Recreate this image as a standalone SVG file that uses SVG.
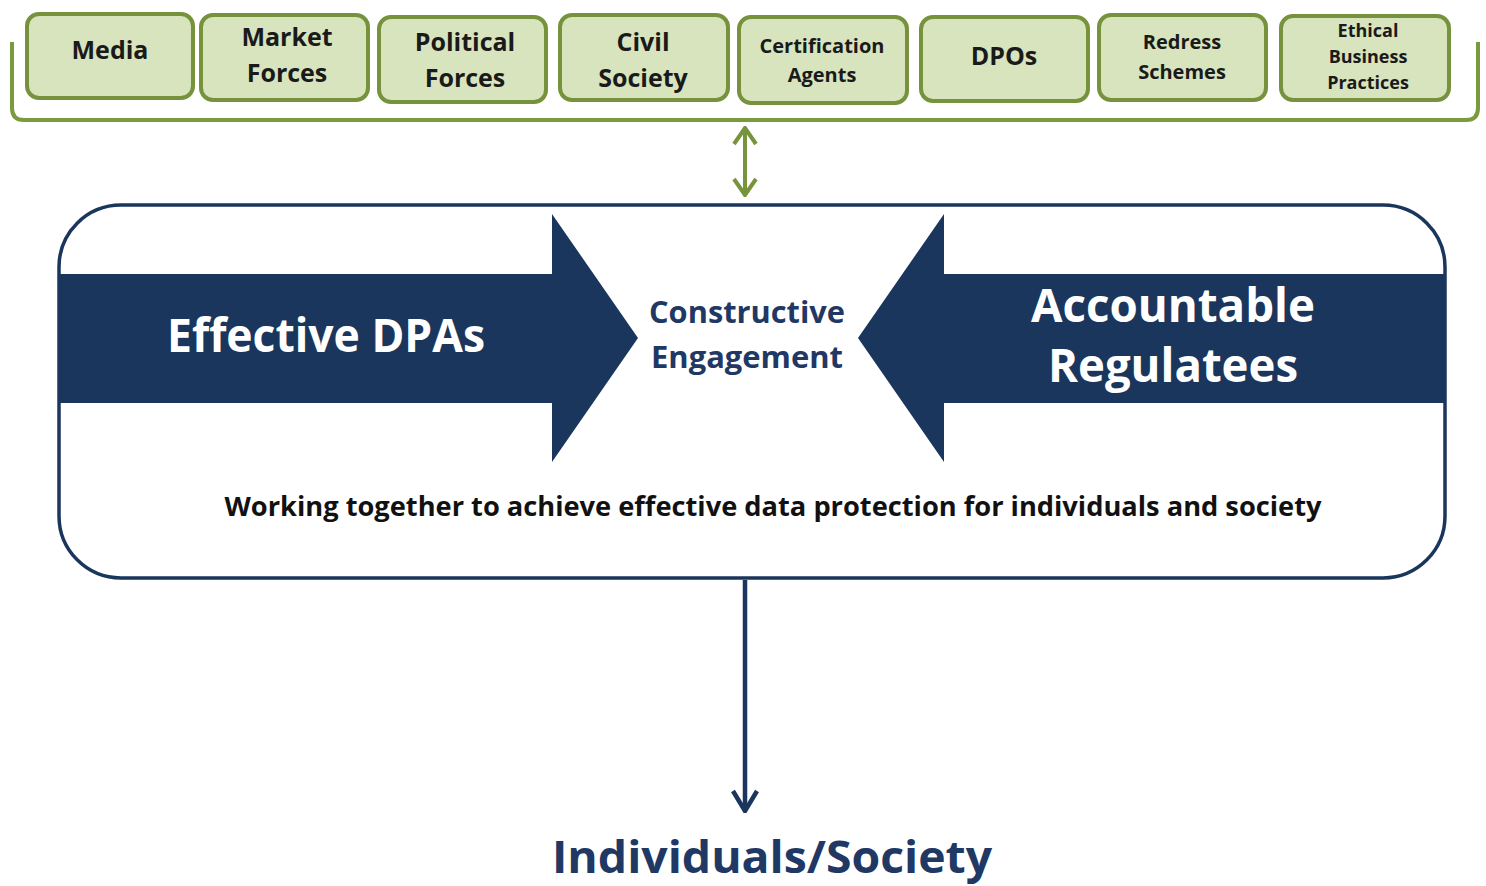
<svg xmlns="http://www.w3.org/2000/svg" width="1486" height="886" viewBox="0 0 1486 886">
<style>
.box{fill:#d7e4bd;stroke:#76923c;stroke-width:4}
.bt{font-family:"Open Sans","Liberation Sans",sans-serif;font-weight:bold;fill:#1a1a1a;text-anchor:middle}
.navy{fill:#1b365d}
.wt{font-family:"Open Sans","Liberation Sans",sans-serif;font-weight:bold;fill:#ffffff;text-anchor:middle}
.nt{font-family:"Open Sans","Liberation Sans",sans-serif;font-weight:bold;fill:#1f3864;text-anchor:middle}
</style>
<defs>
<marker id="gh" viewBox="0 0 20 26" refX="18" refY="13" markerWidth="20" markerHeight="26" markerUnits="userSpaceOnUse" orient="auto-start-reverse">
<path d="M2,2 L18,13 L2,24" fill="none" stroke="#77933c" stroke-width="4"/>
</marker>
<marker id="nh" viewBox="0 0 24 30" refX="22" refY="15" markerWidth="24" markerHeight="30" markerUnits="userSpaceOnUse" orient="auto">
<path d="M2,3 L22,15 L2,27" fill="none" stroke="#1b365d" stroke-width="4.5"/>
</marker>
</defs>
<rect width="1486" height="886" fill="#ffffff"/>
<g id="bracket">
<path d="M12,42 L12,108 Q12,120 24,120 L1466,120 Q1478,120 1478,108 L1478,42" fill="none" stroke="#7a9a3e" stroke-width="4"/>
</g>
<g id="media"><rect class="box" x="27" y="14" width="166" height="84" rx="12"/><text class="bt" x="110" y="59" font-size="25">Media</text></g>
<g id="market"><rect class="box" x="201" y="15" width="167" height="85" rx="12"/><text class="bt" x="287" y="46" font-size="25">Market</text><text class="bt" x="287" y="82" font-size="25">Forces</text></g>
<g id="political"><rect class="box" x="379" y="17" width="167" height="85" rx="12"/><text class="bt" x="465" y="51" font-size="25">Political</text><text class="bt" x="465" y="87" font-size="25">Forces</text></g>
<g id="civil"><rect class="box" x="560" y="15" width="168" height="85" rx="12"/><text class="bt" x="643" y="51" font-size="25">Civil</text><text class="bt" x="643" y="87" font-size="25">Society</text></g>
<g id="cert"><rect class="box" x="739" y="17" width="168" height="86" rx="12"/><text class="bt" x="822" y="53" font-size="20">Certification</text><text class="bt" x="822" y="82" font-size="20">Agents</text></g>
<g id="dpos"><rect class="box" x="921" y="17" width="167" height="84" rx="12"/><text class="bt" x="1004" y="65" font-size="25">DPOs</text></g>
<g id="redress"><rect class="box" x="1099" y="15" width="167" height="85" rx="12"/><text class="bt" x="1182" y="49" font-size="20">Redress</text><text class="bt" x="1182" y="79" font-size="20">Schemes</text></g>
<g id="ethical"><rect class="box" x="1281" y="16" width="168" height="84" rx="12"/><text class="bt" x="1368" y="37" font-size="18" font-weight="600">Ethical</text><text class="bt" x="1368" y="63" font-size="18" font-weight="600">Business</text><text class="bt" x="1368" y="89" font-size="18" font-weight="600">Practices</text></g>
<g id="main">
<rect x="59" y="205" width="1386" height="373" rx="62" fill="#ffffff" stroke="#1b365d" stroke-width="3.5"/>
</g>
<g id="dpas">
<path class="navy" d="M60,274 L552,274 L552,214 L638,338 L552,462 L552,403 L60,403 Z"/>
<text class="wt" x="326" y="352" font-size="46" textLength="318" lengthAdjust="spacingAndGlyphs">Effective DPAs</text>
</g>
<g id="regulatees">
<path class="navy" d="M1444,274 L944,274 L944,214 L858,338 L944,462 L944,403 L1444,403 Z"/>
<text class="wt" x="1173" y="322" font-size="46" textLength="284" lengthAdjust="spacingAndGlyphs">Accountable</text>
<text class="wt" x="1173" y="382" font-size="46" textLength="250" lengthAdjust="spacingAndGlyphs">Regulatees</text>
</g>
<g id="engagement">
<text class="nt" x="747" y="323" font-size="31" textLength="196" lengthAdjust="spacingAndGlyphs">Constructive</text>
<text class="nt" x="747" y="368" font-size="31" textLength="192" lengthAdjust="spacingAndGlyphs">Engagement</text>
</g>
<g id="working">
<text x="773" y="516" font-family="'Open Sans','Liberation Sans',sans-serif" font-weight="bold" font-size="26" fill="#111111" text-anchor="middle" textLength="1097" lengthAdjust="spacingAndGlyphs">Working together to achieve effective data protection for individuals and society</text>
</g>
<g id="society">
<text class="nt" x="772" y="873" font-size="45" font-weight="600" textLength="440" lengthAdjust="spacingAndGlyphs">Individuals/Society</text>
</g>
<g id="connectors">
<line x1="745" y1="128" x2="745" y2="195" stroke="#77933c" stroke-width="4" marker-start="url(#gh)" marker-end="url(#gh)"/>
<line x1="745" y1="580" x2="745" y2="811" stroke="#1b365d" stroke-width="4.5" marker-end="url(#nh)"/>
</g>
</svg>
